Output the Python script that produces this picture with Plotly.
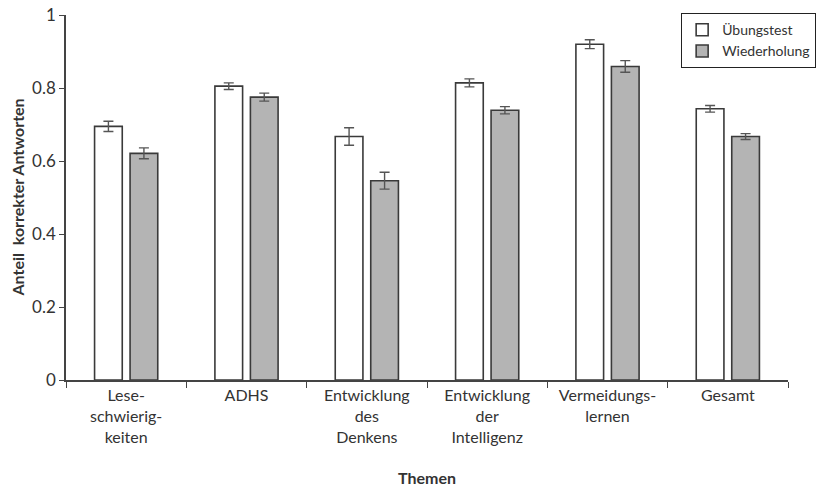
import plotly.graph_objects as go

categories = ["Lese-<br>schwierig-<br>keiten", "ADHS", "Entwicklung<br>des<br>Denkens",
              "Entwicklung<br>der<br>Intelligenz", "Vermeidungs-<br>lernen", "Gesamt"]
uebungstest = [0.695, 0.805, 0.667, 0.814, 0.920, 0.743]
uebungstest_err = [0.014, 0.009, 0.024, 0.011, 0.012, 0.009]
wiederholung = [0.621, 0.775, 0.546, 0.739, 0.859, 0.667]
wiederholung_err = [0.015, 0.011, 0.023, 0.010, 0.016, 0.008]

FONT = "Lato, 'Open Sans', sans-serif"
TXT = "#333333"
EDGE = "#3a3a3a"

fig = go.Figure()
fig.add_trace(go.Bar(
    x=categories, y=uebungstest, name="Übungstest",
    marker=dict(color="#ffffff", line=dict(color=EDGE, width=1.6)),
    error_y=dict(type="data", array=uebungstest_err, color="#555555", thickness=1.4, width=5),
))
fig.add_trace(go.Bar(
    x=categories, y=wiederholung, name="Wiederholung",
    marker=dict(color="#b4b4b4", line=dict(color=EDGE, width=1.6)),
    error_y=dict(type="data", array=wiederholung_err, color="#555555", thickness=1.4, width=5),
))

fig.update_layout(
    width=820, height=488,
    margin=dict(l=66, r=32, t=15, b=108, autoexpand=False),
    paper_bgcolor="white", plot_bgcolor="white",
    barmode="group", bargap=0.41, bargroupgap=0.22,
    font=dict(family=FONT, size=16, color=TXT),
    showlegend=True,
    legend=dict(
        x=0.852, y=1.005, xanchor="left", yanchor="top",
        bordercolor="#222222", borderwidth=1, bgcolor="white",
        font=dict(size=14, color=TXT), tracegroupgap=0, itemwidth=30,
    ),
    xaxis=dict(
        automargin=False,
        showline=True, linecolor="#444444", linewidth=1.5,
        ticks="outside", tickson="boundaries", ticklen=6, tickcolor="#444444",
        tickfont=dict(size=16, color=TXT),
        showgrid=False,
    ),
    yaxis=dict(
        automargin=False, ticklabeloverflow="allow",
        range=[0, 1], tickvals=[0, 0.2, 0.4, 0.6, 0.8, 1],
        ticktext=["0", "0.2", "0.4", "0.6", "0.8", "1"],
        showline=True, linecolor="#444444", linewidth=1.5,
        ticks="outside", ticklen=5, tickcolor="#444444",
        tickfont=dict(size=17, color=TXT),
        showgrid=False, zeroline=False,
    ),
    annotations=[
        dict(text="<b>Themen</b>", xref="paper", yref="paper", x=0.5, y=-0.268,
             xanchor="center", yanchor="middle", showarrow=False,
             font=dict(size=16, color=TXT)),
        dict(text="<b>Anteil  korrekter Antworten</b>", xref="paper", yref="paper",
             x=-0.0665, y=0.5, xanchor="center", yanchor="middle", textangle=-90,
             showarrow=False, font=dict(size=16, color=TXT)),
    ],
)

fig.write_html("out.html", config={"displayModeBar": False},
               post_script="document.body.style.margin='0';")
